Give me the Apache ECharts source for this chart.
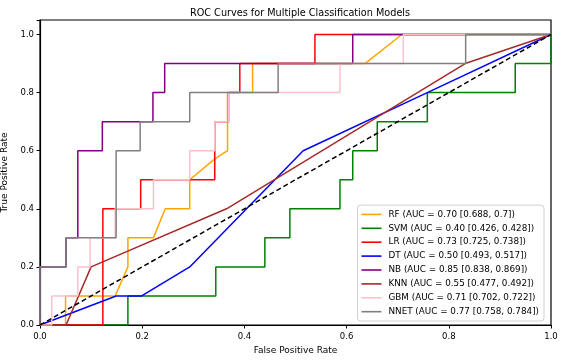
<!DOCTYPE html>
<html>
<head>
<meta charset="utf-8">
<script src="https://cdn.jsdelivr.net/npm/echarts@6/dist/echarts.min.js"></script>
<style>html,body{margin:0;padding:0;background:#fff}#c{width:566px;height:360px}</style>
</head>
<body>
<div id="c"></div>
<script>
const modelNames = [
  'RF (AUC = 0.70 [0.688, 0.7])',
  'SVM (AUC = 0.40 [0.426, 0.428])',
  'LR (AUC = 0.73 [0.725, 0.738])',
  'DT (AUC = 0.50 [0.493, 0.517])',
  'NB (AUC = 0.85 [0.838, 0.869])',
  'KNN (AUC = 0.55 [0.477, 0.492])',
  'GBM (AUC = 0.71 [0.702, 0.722])',
  'NNET (AUC = 0.77 [0.758, 0.784])'
];
const modelColors = ['#FFA500','#008000','#FF0000','#0000FF','#800080','#A52A2A','#FFC0CB','#808080'];

const rfPts = [[0,0],[0.05,0],[0.05,0.1],[0.147,0.1],[0.172,0.2],[0.172,0.3],[0.222,0.3],[0.245,0.4],[0.293,0.4],[0.293,0.5],[0.342,0.572],[0.367,0.6],[0.367,0.8],[0.416,0.8],[0.416,0.9],[0.636,0.9],[0.708,1.0],[1,1]];
const svmPts = [[0,0],[0.172,0],[0.172,0.1],[0.344,0.1],[0.344,0.2],[0.44,0.2],[0.44,0.3],[0.489,0.3],[0.489,0.4],[0.587,0.4],[0.587,0.5],[0.612,0.5],[0.612,0.6],[0.66,0.6],[0.66,0.7],[0.758,0.7],[0.758,0.8],[0.93,0.8],[0.93,0.9],[1,0.9],[1,1]];
const lrPts = [[0,0],[0.123,0],[0.123,0.4],[0.197,0.4],[0.197,0.5],[0.342,0.5],[0.342,0.7],[0.369,0.7],[0.369,0.8],[0.391,0.8],[0.391,0.9],[0.538,0.9],[0.538,1.0],[1,1]];
const dtPts = [[0,0],[0.149,0.1],[0.199,0.1],[0.293,0.2],[0.515,0.6],[0.758,0.8],[1,1]];
const nbPts = [[0,0],[0,0.2],[0.051,0.2],[0.051,0.3],[0.074,0.3],[0.074,0.6],[0.122,0.6],[0.122,0.7],[0.221,0.7],[0.221,0.8],[0.244,0.8],[0.244,0.9],[0.612,0.9],[0.612,1.0],[1,1]];
const knnPts = [[0,0],[0.051,0],[0.1,0.2],[0.365,0.4],[0.832,0.9],[1,1]];
const gbmPts = [[0,0],[0.023,0],[0.023,0.1],[0.074,0.1],[0.074,0.2],[0.098,0.2],[0.098,0.3],[0.147,0.3],[0.147,0.4],[0.222,0.4],[0.222,0.5],[0.293,0.5],[0.293,0.6],[0.342,0.6],[0.342,0.7],[0.369,0.7],[0.369,0.8],[0.587,0.8],[0.587,0.9],[0.711,0.9],[0.711,1.0],[1,1]];
const nnetPts = [[0,0],[0,0.2],[0.051,0.2],[0.051,0.3],[0.149,0.3],[0.149,0.6],[0.196,0.6],[0.196,0.7],[0.293,0.7],[0.293,0.8],[0.466,0.8],[0.466,0.9],[0.833,0.9],[0.833,1.0],[1,1]];
const chancePts = [[0,0],[1,1]];

const allPts = [rfPts, svmPts, lrPts, dtPts, nbPts, knnPts, gbmPts, nnetPts];

const FONT = 'DejaVu Sans';
const chart = echarts.init(document.getElementById('c'), null, {renderer: 'canvas'});
const series = allPts.map((pts, i) => ({
  name: modelNames[i],
  type: 'line',
  data: pts,
  symbol: 'none',
  color: modelColors[i],
  lineStyle: {color: modelColors[i], width: 1.5},
  animation: false
}));
series.push({
  name: 'chance',
  type: 'line',
  data: chancePts,
  symbol: 'none',
  lineStyle: {color: '#000', width: 1.5, type: [5, 3]},
  animation: false
});

chart.setOption({
  animation: false,
  title: {
    text: 'ROC Curves for Multiple Classification Models',
    left: 295, top: 3, textAlign: 'center',
    textStyle: {fontFamily: FONT, fontSize: 9.7, fontWeight: 'normal', color: '#000'}
  },
  grid: {left: 40, right: 15, top: 20, bottom: 35, containLabel: false, outerBoundsMode: 'none',
    show: true, borderColor: '#000', borderWidth: 1.2, backgroundColor: 'transparent'},
  legend: {
    data: modelNames.map((n, i) => ({name: n, icon: 'rect', itemStyle: {color: modelColors[i]}})),
    orient: 'vertical',
    right: 22, bottom: 39,
    itemWidth: 20, itemHeight: 1.6, itemGap: 3.3,
    padding: [4, 5, 4, 4],
    backgroundColor: 'rgba(255,255,255,0.85)',
    borderColor: '#d0d0d0', borderWidth: 1, borderRadius: 3,
    textStyle: {fontFamily: FONT, fontSize: 8.8, color: '#000', padding: [0,0,0,2], lineHeight: 10.6}
  },
  xAxis: {
    type: 'value', min: 0, max: 1, interval: 0.2,
    name: 'False Positive Rate', nameLocation: 'middle', nameGap: 18,
    nameTextStyle: {fontFamily: FONT, fontSize: 9, color: '#000'},
    axisLine: {lineStyle: {color: '#000', width: 1.2}},
    axisTick: {show: true, length: 3.5, lineStyle: {color: '#000'}},
    axisLabel: {fontFamily: FONT, fontSize: 8.5, color: '#000', margin: 7, formatter: v => v.toFixed(1)},
    splitLine: {show: false}
  },
  yAxis: {
    type: 'value', min: 0, max: 1.05, interval: 0.2,
    name: 'True Positive Rate', nameLocation: 'middle', nameGap: 22,
    nameTextStyle: {fontFamily: FONT, fontSize: 9, color: '#000'},
    axisLine: {lineStyle: {color: '#000', width: 1.2}},
    axisTick: {show: true, length: 3.5, lineStyle: {color: '#000'}},
    axisLabel: {fontFamily: FONT, fontSize: 8.5, color: '#000', margin: 6,
      formatter: v => (Math.abs(v * 5 - Math.round(v * 5)) < 1e-6 ? v.toFixed(1) : '')},
    splitLine: {show: false}
  },
  series: series
});
</script>
</body>
</html>
